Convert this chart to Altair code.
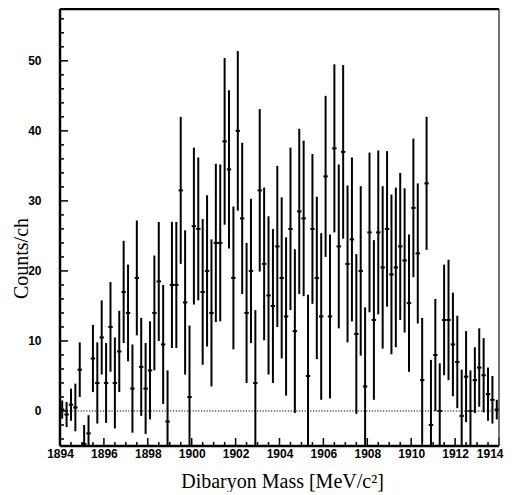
import altair as alt
import pandas as pd

# bin centres (MeV/c^2)
mass = [
    1894.1, 1894.3, 1894.5, 1894.7, 1894.9, 1895.1, 1895.3, 1895.5, 1895.7, 1895.9,
    1896.1, 1896.3, 1896.5, 1896.7, 1896.9, 1897.1, 1897.3, 1897.5, 1897.7, 1897.9,
    1898.1, 1898.3, 1898.5, 1898.7, 1898.9, 1899.1, 1899.3, 1899.5, 1899.7, 1899.9,
    1900.1, 1900.3, 1900.5, 1900.7, 1900.9, 1901.1, 1901.3, 1901.5, 1901.7, 1901.9,
    1902.1, 1902.3, 1902.5, 1902.7, 1902.9, 1903.1, 1903.3, 1903.5, 1903.7, 1903.9,
    1904.1, 1904.3, 1904.5, 1904.7, 1904.9, 1905.1, 1905.3, 1905.5, 1905.7, 1905.9,
    1906.1, 1906.3, 1906.5, 1906.7, 1906.9, 1907.1, 1907.3, 1907.5, 1907.7, 1907.9,
    1908.1, 1908.3, 1908.5, 1908.7, 1908.9, 1909.1, 1909.3, 1909.5, 1909.7, 1909.9,
    1910.1, 1910.3, 1910.5, 1910.7, 1910.9, 1911.1, 1911.3, 1911.5, 1911.7, 1911.9,
    1912.1, 1912.3, 1912.5, 1912.7, 1912.9, 1913.1, 1913.3, 1913.5, 1913.7, 1913.9,
]
counts = [
    0.2, -0.5, 0.9, 0.5, 5.9, -4.7, -3.2, 7.5, 4.0, 10.5,
    4.0, 12.0, 4.0, 8.5, 17.0, 14.0, 3.2, 19.0, 6.3, 3.2,
    5.8, 14.0, 18.5, 9.5, -1.5, 18.0, 18.0, 31.5, 15.5, 2.0,
    26.4, 26.0, 17.0, 20.0, 14.0, 24.0, 24.0, 38.5, 34.5, 19.0,
    40.0, 27.5, 14.0, 20.0, 4.0, 31.5, 21.0, 16.5, 15.0, 23.5,
    19.0, 13.5, 26.0, 11.4, 28.5, 27.5, 5.0, 26.0, 19.0, 13.5,
    33.5, 13.5, 37.5, 23.5, 37.0, 21.0, 24.5, 11.0, 20.0, 3.5,
    25.5, 13.0, 25.5, 20.5, 26.0, 19.5, 20.5, 23.5, 21.5, 15.4,
    29.0, 22.5, 4.4, 32.5, -2.0, 8.0, 0.0, 13.0, 13.0, 9.5,
    7.0, -0.7, 4.9, 0.0, 4.4, 6.2, 5.1, 2.4, 1.6, 0.2,
]
errors = [
    1.3, 1.8, 2.3, 3.4, 3.9, 2.7, 2.6, 4.8, 5.8, 5.3,
    5.7, 6.4, 6.5, 5.8, 7.3, 6.9, 6.3, 8.2, 7.0, 6.5,
    7.0, 8.2, 8.5, 8.5, 7.3, 9.0, 9.0, 10.5, 10.3, 10.2,
    11.2, 10.2, 10.4, 10.8, 10.5, 11.3, 11.2, 11.9, 11.3, 10.2,
    11.4, 10.8, 10.0, 10.3, 10.4, 11.6, 10.9, 11.3, 11.0, 11.5,
    11.5, 11.3, 11.6, 11.7, 11.8, 11.1, 11.6, 10.7, 11.6, 11.9,
    11.5, 11.7, 12.0, 11.7, 12.4, 11.2, 11.7, 11.4, 12.1, 11.3,
    11.4, 11.4, 11.7, 11.6, 11.1, 11.4, 11.4, 10.5, 10.3, 9.8,
    9.9, 10.0, 8.9, 9.5, 9.3, 8.0, 6.8, 7.9, 8.6, 7.4,
    6.6, 6.6, 6.5, 5.8, 4.7, 5.6, 5.3, 3.8, 3.4, 1.4,
]

x_major = [1894, 1896, 1898, 1900, 1902, 1904, 1906, 1908, 1910, 1912, 1914]
x_minor = [1894.5, 1895, 1895.5, 1896.5, 1897, 1897.5, 1898.5, 1899, 1899.5,
           1900.5, 1901, 1901.5, 1902.5, 1903, 1903.5, 1904.5, 1905, 1905.5,
           1906.5, 1907, 1907.5, 1908.5, 1909, 1909.5, 1910.5, 1911, 1911.5,
           1912.5, 1913, 1913.5]
y_major = [0, 10, 20, 30, 40, 50]
y_minor = [-4, -2, 2, 4, 6, 8, 12, 14, 16, 18, 22, 24, 26, 28, 32, 34, 36, 38,
           42, 44, 46, 48, 52, 54, 56]

W, H = 439, 437
X_DOMAIN = [1894, 1914]
Y_DOMAIN = [-5, 57.4]

df = pd.DataFrame({"m": mass, "v": counts, "e": errors})
df["lo"] = df["v"] - df["e"]
df["hi"] = df["v"] + df["e"]
df["ml"] = df["m"] - 0.1
df["mr"] = df["m"] + 0.1

xs = alt.Scale(domain=X_DOMAIN, nice=False, zero=False)
ys = alt.Scale(domain=Y_DOMAIN, nice=False, zero=False)

x_axis = alt.Axis(
    values=x_major, format="d", ticks=False, tickSize=0, domain=False, grid=False,
    labelFont="Liberation Sans", labelFontWeight="bold", labelFontSize=12,
    labelColor="black", labelPadding=2, labelFlush=False, labelOverlap=False,
    labelAlign={"condition": {"test": "datum.value >= 1914", "value": "right"}, "value": "center"},
    labelOffset={"condition": {"test": "datum.value >= 1914", "value": 4}, "value": 0},
    title="Dibaryon Mass [MeV/c²]", titleFont="Liberation Serif",
    titleFontSize=20, titleFontWeight="normal", titleColor="black",
    titleBaseline="alphabetic", titleX=222, titleY=41,
)
y_axis = alt.Axis(
    values=y_major, format="d", ticks=False, tickSize=0, domain=False, grid=False,
    labelFont="Liberation Sans", labelFontWeight="bold", labelFontSize=12,
    labelColor="black", labelPadding=19, labelFlush=False, labelOverlap=False,
    title="Counts/ch", titleFont="Liberation Serif", titleFontSize=20,
    titleFontWeight="normal", titleColor="black", titleAngle=270,
    titleBaseline="alphabetic", titleAlign="center", titleX=-33, titleY=249,
)

bars = alt.Chart(df).mark_rule(color="black", strokeWidth=2, clip=True).encode(
    x=alt.X("m:Q", scale=xs, axis=x_axis),
    y=alt.Y("lo:Q", scale=ys, axis=y_axis),
    y2="hi:Q",
)
marks = alt.Chart(df).mark_rule(color="black", strokeWidth=2, clip=True).encode(
    x=alt.X("ml:Q", scale=xs),
    x2="mr:Q",
    y=alt.Y("v:Q", scale=ys),
)
zero = alt.Chart(pd.DataFrame({"z": [0]})).mark_rule(
    color="black", strokeWidth=1.2, strokeDash=[1.2, 1.6]
).encode(y=alt.Y("z:Q", scale=ys))

ymaj = alt.Chart(pd.DataFrame({"t": y_major})).mark_rule(color="black", strokeWidth=1.5).encode(
    y=alt.Y("t:Q", scale=ys), x=alt.value(0), x2=alt.value(8))
ymin = alt.Chart(pd.DataFrame({"t": y_minor})).mark_rule(color="black", strokeWidth=1.5).encode(
    y=alt.Y("t:Q", scale=ys), x=alt.value(0), x2=alt.value(4))
xmaj = alt.Chart(pd.DataFrame({"t": x_major})).mark_rule(color="black", strokeWidth=1.5).encode(
    x=alt.X("t:Q", scale=xs), y=alt.value(H), y2=alt.value(H - 8))
xmin = alt.Chart(pd.DataFrame({"t": x_minor})).mark_rule(color="black", strokeWidth=1.5).encode(
    x=alt.X("t:Q", scale=xs), y=alt.value(H), y2=alt.value(H - 4))

frame_l = alt.Chart(pd.DataFrame({"a": [0]})).mark_rule(color="black", strokeWidth=2.5).encode(
    x=alt.value(0), y=alt.value(0), y2=alt.value(H))
frame_b = alt.Chart(pd.DataFrame({"a": [0]})).mark_rule(color="black", strokeWidth=2.5).encode(
    x=alt.value(0), x2=alt.value(W), y=alt.value(H))
frame_t = alt.Chart(pd.DataFrame({"a": [0]})).mark_rule(color="black", strokeWidth=2.5).encode(
    x=alt.value(0), x2=alt.value(W), y=alt.value(0))
frame_r = alt.Chart(pd.DataFrame({"a": [0]})).mark_rule(color="#444444", strokeWidth=1.5).encode(
    x=alt.value(W), y=alt.value(0), y2=alt.value(H))

chart = alt.layer(
    zero, bars, marks, ymaj, ymin, xmaj, xmin, frame_l, frame_b, frame_t, frame_r
).properties(
    width=W, height=H,
    padding={"left": 52, "top": 1, "right": 5, "bottom": 46},
    autosize=alt.AutoSizeParams(type="none"),
    background="white",
).configure_view(stroke=None)

chart.save("out.html", embed_options={"renderer": "svg", "actions": False})
